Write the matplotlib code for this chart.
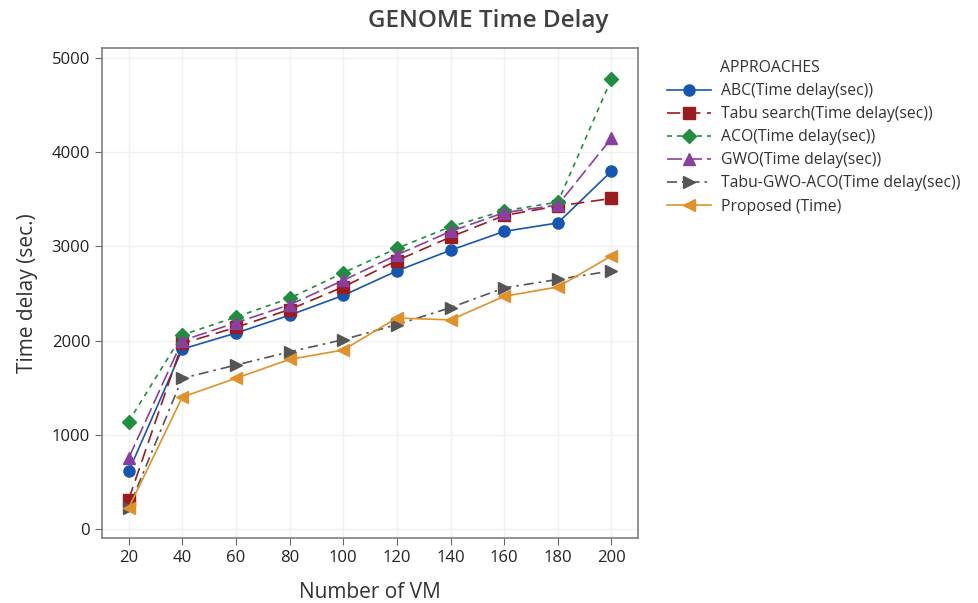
import numpy as np
import matplotlib.pyplot as plt

plt.rcParams['font.family'] = ['Open Sans', 'DejaVu Sans']

vm_counts = [20, 40, 60, 80, 100, 120, 140, 160, 180, 200]

abc_delay = [610, 1910, 2080, 2270, 2480, 2740, 2960, 3160, 3250, 3800]
tabu_delay = [310, 1970, 2140, 2330, 2570, 2850, 3100, 3330, 3430, 3510]
aco_delay = [1140, 2060, 2250, 2450, 2720, 2980, 3210, 3380, 3470, 4780]
gwo_delay = [750, 2000, 2190, 2380, 2640, 2910, 3160, 3360, 3440, 4150]
hybrid_delay = [220, 1600, 1740, 1880, 2010, 2170, 2350, 2560, 2650, 2740]
proposed_delay = [220, 1400, 1600, 1800, 1900, 2240, 2220, 2470, 2570, 2900]

series_names = ['ABC(Time delay(sec))', 'Tabu search(Time delay(sec))',
                'ACO(Time delay(sec))', 'GWO(Time delay(sec))',
                'Tabu-GWO-ACO(Time delay(sec))', 'Proposed (Time)']
y_ticks = [0, 1000, 2000, 3000, 4000, 5000]

fig = plt.figure(figsize=(9.79, 6.03), dpi=100)
ax = fig.add_axes([0.104, 0.108, 0.548, 0.812])

styles = [
    (abc_delay, '#1557b0', 'o', '-'),
    (tabu_delay, '#9b1b1e', 's', (0, (8, 4))),
    (aco_delay, '#1f8f3f', 'D', (0, (3, 3))),
    (gwo_delay, '#8a3fa0', '^', (0, (9, 3))),
    (hybrid_delay, '#555555', '>', (0, (6, 3, 1.5, 3))),
    (proposed_delay, '#e0912a', '<', '-'),
]

for name, (vals, col, mk, ls) in zip(series_names, styles):
    ms = 7 if mk == 'D' else 8
    ax.plot(vm_counts, vals, color=col, marker=mk, linestyle=ls,
            linewidth=1.2, markersize=ms, label=name)

ax.set_xlim(10, 210)
ax.set_ylim(-96, 5106)
ax.set_xticks(vm_counts)
ax.set_yticks(y_ticks)
ax.tick_params(labelsize=12, colors='#222222', length=5, color='#666666')
ax.grid(True, color='#eef0f2', linewidth=1)
ax.set_axisbelow(True)
for s in ax.spines.values():
    s.set_color('#808080')
    s.set_linewidth(1.2)

ax.set_xlabel('Number of VM', fontsize=15, color='#333333', labelpad=12)
ax.set_ylabel('Time delay (sec.)', fontsize=15, color='#333333', labelpad=10)
fig.text(0.499, 0.965, 'GENOME Time Delay', fontsize=17.5, color='#404040',
         ha='center', va='center', fontweight='semibold')

leg = ax.legend(loc='upper left', bbox_to_anchor=(0.681, 0.862),
                bbox_transform=fig.transFigure, frameon=False,
                fontsize=11.3, handlelength=2.8, handletextpad=0.65,
                labelspacing=0.45, borderpad=0, borderaxespad=0)
for t in leg.get_texts():
    t.set_color('#333333')
fig.text(0.7355, 0.887, 'APPROACHES', fontsize=11.3, color='#333333',
         ha='left', va='center')

fig.savefig('out.png', dpi=100)
